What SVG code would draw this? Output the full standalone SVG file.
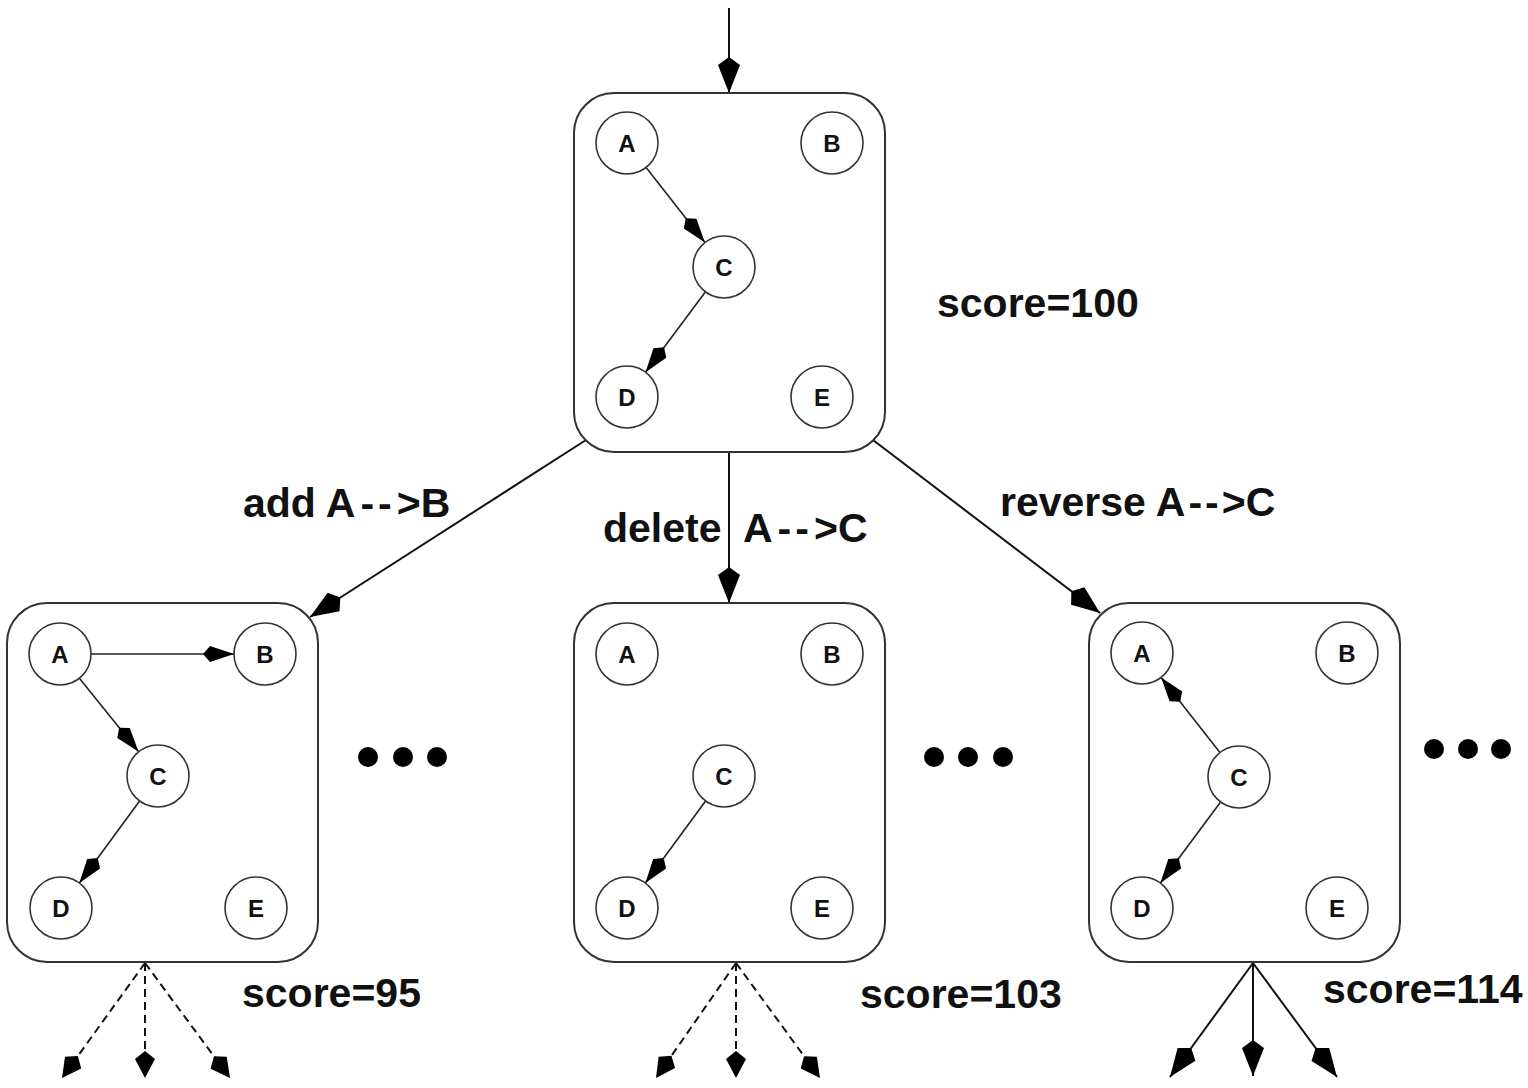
<svg xmlns="http://www.w3.org/2000/svg" width="1528" height="1088" viewBox="0 0 1528 1088">
  <style>
    .box { fill: none; stroke: #333; stroke-width: 2; }
    .node circle { fill: #fff; stroke: #333; stroke-width: 1.6; }
    .node text { font-family: "Liberation Sans", Arial, sans-serif; font-weight: bold; font-size: 24px; text-anchor: middle; fill: #111; }
    .edge { fill: none; stroke: #222; stroke-width: 1.6; marker-end: url(#small); }
    .flow { fill: none; stroke: #111; stroke-width: 2; marker-end: url(#big); }
    .dash { fill: none; stroke: #111; stroke-width: 2; stroke-dasharray: 8 5; marker-end: url(#dhead); }
    .solid { fill: none; stroke: #111; stroke-width: 2; marker-end: url(#big); }
    .lbl { font-family: "Liberation Sans", Arial, sans-serif; font-weight: bold; font-size: 41px; fill: #111; }
    .dot { fill: #000; }
  </style>
  <defs>
    <marker id="big" refX="0" refY="0" markerWidth="40" markerHeight="30" markerUnits="userSpaceOnUse" orient="auto" overflow="visible">
      <path d="M0,0 L-28,-11 L-36,0 L-28,11 Z" fill="#000"/>
    </marker>
    <marker id="small" refX="0" refY="0" markerWidth="34" markerHeight="20" markerUnits="userSpaceOnUse" orient="auto" overflow="visible">
      <path d="M0,0 L-24,-8 L-31,0 L-24,8 Z" fill="#000"/>
    </marker>
    <marker id="dhead" refX="0" refY="0" markerWidth="30" markerHeight="24" markerUnits="userSpaceOnUse" orient="auto" overflow="visible">
      <path d="M0,0 L-19,-10 L-27,0 L-19,10 Z" fill="#000"/>
    </marker>
  </defs>
  <rect width="1528" height="1088" fill="#fff"/>

  <g id="connectors">
    <line class="flow" x1="729" y1="8" x2="729" y2="93"/>
    <line class="flow" x1="586" y1="440" x2="310" y2="617"/>
    <line class="flow" x1="729" y1="452" x2="729" y2="603"/>
    <line class="flow" x1="873" y1="440" x2="1100" y2="613"/>
    <line class="dash" x1="145" y1="963" x2="62" y2="1078"/>
    <line class="dash" x1="145" y1="963" x2="145" y2="1078"/>
    <line class="dash" x1="145" y1="963" x2="230" y2="1078"/>
    <line class="dash" x1="736" y1="963" x2="656" y2="1078"/>
    <line class="dash" x1="736" y1="963" x2="736" y2="1078"/>
    <line class="dash" x1="736" y1="963" x2="820" y2="1078"/>
    <line class="solid" x1="1253" y1="963" x2="1170" y2="1077"/>
    <line class="solid" x1="1253" y1="963" x2="1253" y2="1076"/>
    <line class="solid" x1="1253" y1="963" x2="1337" y2="1077"/>
  </g>

  <g id="labels">
    <text class="lbl" x="937" y="317">score=100</text>
    <text class="lbl" x="243" y="517">add A<tspan dx="5">-</tspan><tspan dx="4">-</tspan><tspan dx="5">&gt;</tspan>B</text>
    <text class="lbl" x="603" y="542">delete</text>
    <text class="lbl" x="743" y="542">A<tspan dx="5">-</tspan><tspan dx="4">-</tspan><tspan dx="5">&gt;</tspan>C</text>
    <text class="lbl" x="1000" y="516">reverse A<tspan dx="3">-</tspan><tspan dx="3">-</tspan><tspan dx="3">&gt;</tspan>C</text>
    <text class="lbl" x="242" y="1007">score=95</text>
    <text class="lbl" x="860" y="1008">score=103</text>
    <text class="lbl" x="1323" y="1003">score=114</text>
  </g>

  <!-- Top state -->
  <g id="state-top">
    <rect class="box" x="574" y="93" width="311" height="359" rx="40"/>
    <g id="top-edges">
      <line class="edge" x1="646.1" y1="167.4" x2="704.9" y2="242.6"/>
      <line class="edge" x1="705.5" y1="291.8" x2="645.5" y2="372.2"/>
    </g>
    <g class="node" id="top-A"><circle cx="627" cy="143" r="31"/><text x="627" y="152">A</text></g>
    <g class="node" id="top-B"><circle cx="832" cy="143" r="31"/><text x="832" y="152">B</text></g>
    <g class="node" id="top-C"><circle cx="724" cy="267" r="31"/><text x="724" y="276">C</text></g>
    <g class="node" id="top-D"><circle cx="627" cy="397" r="31"/><text x="627" y="406">D</text></g>
    <g class="node" id="top-E"><circle cx="822" cy="397" r="31"/><text x="822" y="406">E</text></g>
  </g>

  <!-- Bottom-left state -->
  <g id="state-add">
    <rect class="box" x="7" y="603" width="311" height="359" rx="40"/>
    <g id="add-edges">
      <line class="edge" x1="91" y1="654" x2="234" y2="654"/>
      <line class="edge" x1="79.4" y1="678.2" x2="138.6" y2="751.8"/>
      <line class="edge" x1="139.6" y1="801" x2="79.4" y2="883"/>
    </g>
    <g class="node" id="add-A"><circle cx="60" cy="654" r="31"/><text x="60" y="663">A</text></g>
    <g class="node" id="add-B"><circle cx="265" cy="654" r="31"/><text x="265" y="663">B</text></g>
    <g class="node" id="add-C"><circle cx="158" cy="776" r="31"/><text x="158" y="785">C</text></g>
    <g class="node" id="add-D"><circle cx="61" cy="908" r="31"/><text x="61" y="917">D</text></g>
    <g class="node" id="add-E"><circle cx="256" cy="908" r="31"/><text x="256" y="917">E</text></g>
  </g>

  <!-- Bottom-middle state -->
  <g id="state-delete">
    <rect class="box" x="574" y="603" width="311" height="359" rx="40"/>
    <g id="delete-edges">
      <line class="edge" x1="705.6" y1="801" x2="645.4" y2="883"/>
    </g>
    <g class="node" id="del-A"><circle cx="627" cy="654" r="31"/><text x="627" y="663">A</text></g>
    <g class="node" id="del-B"><circle cx="832" cy="654" r="31"/><text x="832" y="663">B</text></g>
    <g class="node" id="del-C"><circle cx="724" cy="776" r="31"/><text x="724" y="785">C</text></g>
    <g class="node" id="del-D"><circle cx="627" cy="908" r="31"/><text x="627" y="917">D</text></g>
    <g class="node" id="del-E"><circle cx="822" cy="908" r="31"/><text x="822" y="917">E</text></g>
  </g>

  <!-- Bottom-right state -->
  <g id="state-reverse">
    <rect class="box" x="1089" y="603" width="311" height="359" rx="40"/>
    <g id="reverse-edges">
      <line class="edge" x1="1219.9" y1="752.6" x2="1161.1" y2="677.4"/>
      <line class="edge" x1="1220.6" y1="801.9" x2="1160.4" y2="883.1"/>
    </g>
    <g class="node" id="rev-A"><circle cx="1142" cy="653" r="31"/><text x="1142" y="662">A</text></g>
    <g class="node" id="rev-B"><circle cx="1347" cy="653" r="31"/><text x="1347" y="662">B</text></g>
    <g class="node" id="rev-C"><circle cx="1239" cy="777" r="31"/><text x="1239" y="786">C</text></g>
    <g class="node" id="rev-D"><circle cx="1142" cy="908" r="31"/><text x="1142" y="917">D</text></g>
    <g class="node" id="rev-E"><circle cx="1337" cy="908" r="31"/><text x="1337" y="917">E</text></g>
  </g>

  <g id="ellipses">
    <circle class="dot" cx="368" cy="757" r="10"/>
    <circle class="dot" cx="403" cy="757" r="10"/>
    <circle class="dot" cx="437" cy="757" r="10"/>
    <circle class="dot" cx="934" cy="757" r="10"/>
    <circle class="dot" cx="968" cy="757" r="10"/>
    <circle class="dot" cx="1003" cy="757" r="10"/>
    <circle class="dot" cx="1434" cy="749" r="10"/>
    <circle class="dot" cx="1468" cy="749" r="10"/>
    <circle class="dot" cx="1501" cy="749" r="10"/>
  </g>
</svg>
